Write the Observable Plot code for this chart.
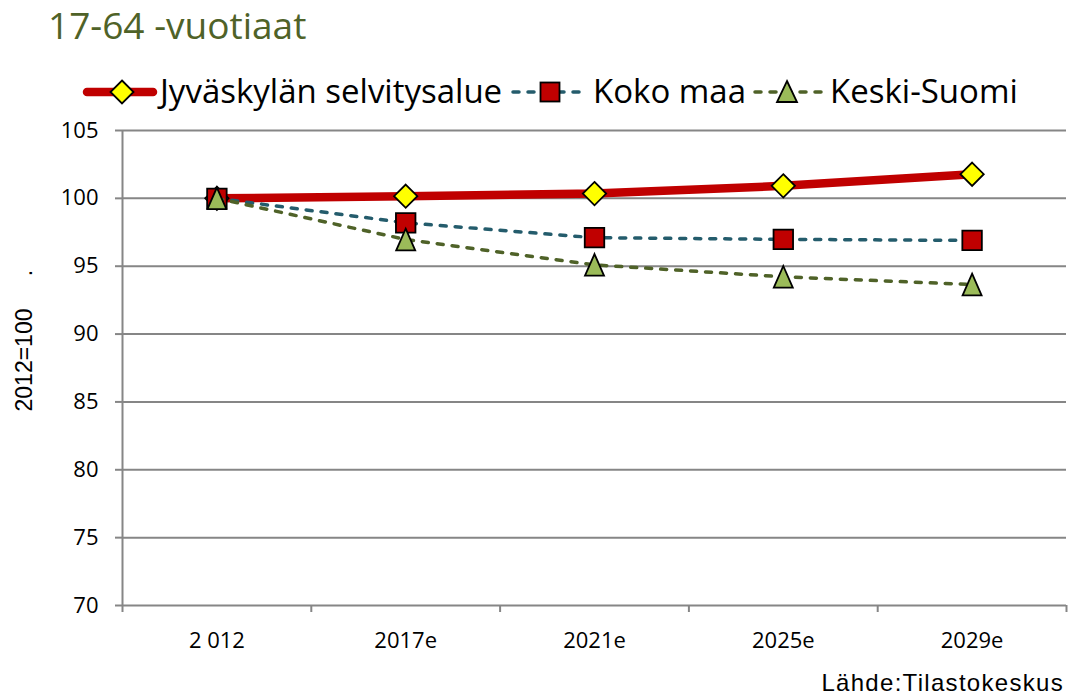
<!DOCTYPE html>
<html>
<head>
<meta charset="utf-8">
<script src="https://cdn.jsdelivr.net/npm/d3@7"></script>
<script src="https://cdn.jsdelivr.net/npm/@observablehq/plot@0.6"></script>
<style>
  html, body { margin: 0; padding: 0; background: #fff; }
  #root { position: relative; width: 1068px; height: 696px; overflow: hidden; background: #fff; }
  .abs { position: absolute; white-space: nowrap; line-height: 1; }
  #title { left: 48px; top: 6px; font-family: "Open Sans", sans-serif; font-size: 37px; color: #4F6228; }
  .leg { font-family: "Open Sans", sans-serif; font-size: 33px; color: #000; top: 74px; }
  .ylab { font-family: "Liberation Sans", Arial, sans-serif; font-size: 23px; color: #000; }
  #caption { font-family: "Liberation Sans", Arial, sans-serif; font-size: 24px; letter-spacing: 1.3px; color: #000; }
  #plot { position: absolute; left: 0; top: 118px; }
</style>
</head>
<body>
<div id="root">
  <div id="title" class="abs">17-64 -vuotiaat</div>
  <div id="plot"></div>
</div>
<script>
// ---- data ----
const categories = ["2 012", "2017e", "2021e", "2025e", "2029e"];
const seriesNames = ["Jyväskylän selvitysalue", "Koko maa", "Keski-Suomi"];
const jyvaskyla = [100, 100.16, 100.35, 100.92, 101.78];
const kokoMaa = [100, 98.2, 97.1, 96.98, 96.9];
const keskiSuomi = [100, 96.97, 95.1, 94.22, 93.65];
const yTicks = [70, 75, 80, 85, 90, 95, 100, 105];
const yLabel = "2012=100";
const caption = "Lähde:Tilastokeskus";

// ---- styles ----
const gridColor = "#868686";
const colJ = "#C00000", colK = "#245C6C", colS = "#4F6228";
const fillJ = "#FFFF00", fillK = "#C00000", fillS = "#9BBB59";

const rows = (vals) => vals.map((v, i) => ({i, value: v}));
const dJ = rows(jyvaskyla), dK = rows(kokoMaa), dS = rows(keskiSuomi);
const centers = categories.map((_, i) => i);
const bounds = d3.range(categories.length + 1).map(i => i - 0.5);

// custom triangle centred on its bounding box
const triangle = {
  draw(ctx, size) {
    const a = Math.sqrt(size / Math.PI);
    ctx.moveTo(0, -1.08 * a);
    ctx.lineTo(a * 0.95, 1.08 * a);
    ctx.lineTo(-a * 0.95, 1.08 * a);
    ctx.closePath();
  }
};

const chart = Plot.plot({
  width: 1068,
  height: 578,
  marginLeft: 122,
  marginRight: 2,
  marginTop: 12,
  marginBottom: 91,
  style: {fontFamily: "'Open Sans', sans-serif", fontSize: "22px", background: "transparent", overflow: "visible"},
  x: {type: "linear", domain: [-0.5, categories.length - 0.5], axis: null},
  y: {domain: [70, 105], axis: null},
  marks: [
    Plot.ruleY(yTicks, {stroke: gridColor, strokeWidth: 2}),
    Plot.ruleX([-0.5], {stroke: gridColor, strokeWidth: 2}),
    Plot.axisY(yTicks, {tickSize: 7, tickPadding: 17, stroke: gridColor, strokeWidth: 2, fill: "#000", label: null, tickFormat: d => String(d)}),
    Plot.axisX(bounds, {tickSize: 7, stroke: gridColor, strokeWidth: 2, tickFormat: () => "", label: null}),
    Plot.axisX(centers, {tickSize: 0, tickPadding: 27, fill: "#000", label: null, tickFormat: i => categories[i]}),
    Plot.line(dJ, {x: "i", y: "value", stroke: colJ, strokeWidth: 8.5, strokeLinecap: "round"}),
    Plot.dot(dJ, {x: "i", y: "value", symbol: "diamond2", r: 10.5, fill: fillJ, stroke: "#000", strokeWidth: 1.8}),
    Plot.line(dK, {x: "i", y: "value", stroke: colK, strokeWidth: 3.5, strokeDasharray: "6,9", strokeLinecap: "round"}),
    Plot.dot(dK, {x: "i", y: "value", symbol: "square", r: 11, fill: fillK, stroke: "#000", strokeWidth: 1.8}),
    Plot.line(dS, {x: "i", y: "value", stroke: colS, strokeWidth: 3.5, strokeDasharray: "6,9", strokeLinecap: "round"}),
    Plot.dot(dS, {x: "i", y: "value", symbol: triangle, r: 10, fill: fillS, stroke: "#000", strokeWidth: 1.8})
  ]
});
document.getElementById("plot").appendChild(chart);

// ---- legend (HTML + inline svg swatches) ----
const root = document.getElementById("root");
function addSwatch(left, width, html) {
  const div = document.createElement("div");
  div.className = "abs";
  div.style.left = left + "px";
  div.style.top = "76px";
  div.innerHTML = `<svg width="${width}" height="32" style="display:block;overflow:visible">${html}</svg>`;
  root.appendChild(div);
}
function addText(left, text) {
  const div = document.createElement("div");
  div.className = "abs leg";
  div.style.left = left + "px";
  div.textContent = text;
  root.appendChild(div);
}
addSwatch(83, 74, `<line x1="4" y1="16" x2="70" y2="16" stroke="${colJ}" stroke-width="8.5" stroke-linecap="round"/>
  <path d="M39,4.5 L50.5,16 L39,27.5 L27.5,16 Z" fill="${fillJ}" stroke="#000" stroke-width="1.8"/>`);
addText(160, seriesNames[0]);
addSwatch(511, 74, `<line x1="2" y1="16" x2="72" y2="16" stroke="${colK}" stroke-width="3.5" stroke-dasharray="6,9" stroke-linecap="round"/>
  <rect x="29.5" y="6.5" width="19" height="19" fill="${fillK}" stroke="#000" stroke-width="1.8"/>`);
addText(593, seriesNames[1]);
addSwatch(753, 70, `<line x1="2" y1="16" x2="68" y2="16" stroke="${colS}" stroke-width="3.5" stroke-dasharray="6,9" stroke-linecap="round"/>
  <path d="M34,5 L44,26 L24,26 Z" fill="${fillS}" stroke="#000" stroke-width="1.8"/>`);
addText(830, seriesNames[2]);

// ---- y label ----
const yl = document.createElement("div");
yl.className = "abs ylab";
yl.textContent = yLabel;
yl.style.left = "24px"; yl.style.top = "360px";
yl.style.transform = "translate(-50%, -50%) rotate(-90deg)";
root.appendChild(yl);
const dot = document.createElement("div");
dot.className = "abs ylab";
dot.textContent = ".";
dot.style.left = "24px"; dot.style.top = "273px";
dot.style.transform = "translate(-50%, -50%) rotate(-90deg)";
root.appendChild(dot);

// ---- caption ----
const cap = document.createElement("div");
cap.id = "caption"; cap.className = "abs";
cap.textContent = caption;
cap.style.right = "4px"; cap.style.top = "671px";
root.appendChild(cap);
</script>
</body>
</html>
